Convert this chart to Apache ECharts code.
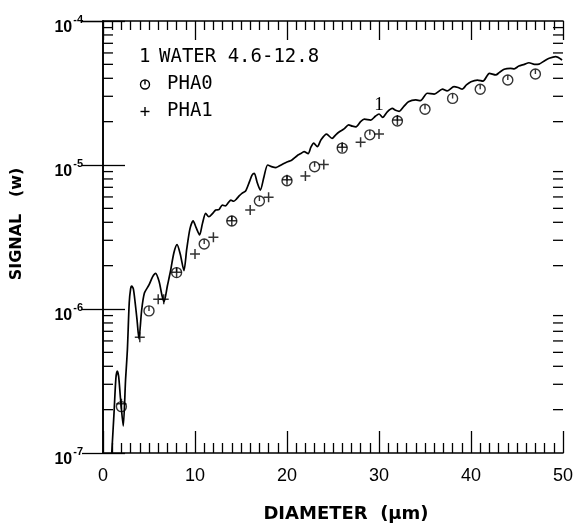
<!DOCTYPE html>
<html>
<head>
<meta charset="utf-8">
<script src="https://cdn.jsdelivr.net/npm/echarts@6/dist/echarts.min.js"></script>
<style>
  html, body { margin: 0; padding: 0; background: #fff; }
  #chart { width: 577px; height: 525px; }
</style>
</head>
<body>
<div id="chart"></div>
<script>
// Computed signal for water droplets, 4.6-12.8 um band (curve "1")
const diameter = [
  0.95, 1.2, 1.4, 1.55, 1.7, 1.9, 2.2, 2.45, 2.65, 2.85, 3.0, 3.12, 3.3, 3.5, 3.7, 3.91,
  4.2, 4.5, 5.0, 5.4, 5.72, 6.1, 6.4, 6.63, 7.0, 7.35, 7.7, 8.05, 8.4, 8.8, 9.1, 9.45,
  9.8, 10.1, 10.5, 10.8, 11.16, 11.5, 11.9, 12.25, 12.6, 12.97, 13.3, 13.6, 13.9, 14.2,
  14.5, 14.8, 15.1, 15.5, 15.9, 16.2, 16.45, 16.75, 17.1, 17.5, 17.9, 18.4, 18.8, 19.1,
  19.6, 20.0, 20.5, 21.1, 21.5, 21.85, 22.3, 22.6, 22.9, 23.3, 23.7, 24.3, 24.9, 25.3,
  25.7, 26.2, 26.7, 27.1, 27.5, 28.0, 28.4, 29.1, 29.6, 30.0, 30.4, 30.9, 31.45, 31.8,
  32.2, 32.7, 33.2, 34.0, 34.5, 35.25, 36.0, 36.9, 37.4, 38.15, 38.6, 39.05, 39.5, 40.0,
  40.7, 41.3, 42.0, 42.7, 43.1, 43.6, 44.3, 44.7, 45.2, 45.8, 46.3, 46.9, 47.4, 48.0,
  48.5, 49.2, 49.9
];
const waterSignal = [
  1.0e-7, 1.9e-7, 3.3e-7, 3.7e-7, 3.4e-7, 2.4e-7, 1.54e-7, 3.2e-7, 5.2e-7, 1.1e-6, 1.38e-6, 1.44e-6, 1.38e-6, 1.1e-6, 8.4e-7, 6.2e-7,
  9.8e-7, 1.29e-6, 1.47e-6, 1.68e-6, 1.77e-6, 1.55e-6, 1.25e-6, 1.12e-6, 1.45e-6, 1.85e-6, 2.45e-6, 2.8e-6, 2.4e-6, 1.85e-6, 2.6e-6, 3.6e-6,
  4.1e-6, 3.7e-6, 3.27e-6, 3.9e-6, 4.62e-6, 4.37e-6, 4.6e-6, 4.87e-6, 4.9e-6, 5.27e-6, 5.2e-6, 5.45e-6, 5.7e-6, 5.6e-6,
  5.8e-6, 6.1e-6, 6.35e-6, 6.6e-6, 7.6e-6, 8.5e-6, 8.75e-6, 7.6e-6, 6.7e-6, 8.3e-6, 1.0e-5, 9.7e-6, 9.6e-6, 9.8e-6,
  1.02e-5, 1.05e-5, 1.08e-5, 1.16e-5, 1.2e-5, 1.24e-5, 1.2e-5, 1.33e-5, 1.42e-5, 1.34e-5, 1.5e-5, 1.64e-5, 1.53e-5, 1.62e-5,
  1.70e-5, 1.78e-5, 1.90e-5, 1.86e-5, 1.84e-5, 2.0e-5, 2.08e-5, 2.05e-5, 2.18e-5, 2.26e-5, 2.14e-5, 2.34e-5, 2.47e-5, 2.4e-5,
  2.36e-5, 2.55e-5, 2.75e-5, 2.83e-5, 2.8e-5, 3.15e-5, 3.11e-5, 3.36e-5, 3.27e-5, 3.50e-5, 3.45e-5, 3.36e-5, 3.6e-5, 3.79e-5,
  3.89e-5, 3.82e-5, 4.33e-5, 4.22e-5, 4.4e-5, 4.62e-5, 4.69e-5, 4.65e-5, 4.87e-5, 5.0e-5, 5.13e-5, 5.0e-5, 5.02e-5, 5.3e-5,
  5.51e-5, 5.65e-5, 5.36e-5
];

// Measured channels
const pha0Diameter = [2, 5, 8, 11, 14, 17, 20, 23, 26, 29, 32, 35, 38, 41, 44, 47];
const pha0Signal = [2.1e-7, 9.7e-7, 1.79e-6, 2.83e-6, 4.08e-6, 5.62e-6, 7.78e-6, 9.73e-6, 1.31e-5, 1.62e-5, 2.02e-5, 2.44e-5, 2.9e-5, 3.36e-5, 3.89e-5, 4.28e-5];
const pha1Diameter = [2, 4, 6, 6.6, 8, 10, 12, 14, 16, 18, 20, 22, 24, 26, 28, 30, 32];
const pha1Signal = [2.2e-7, 6.36e-7, 1.17e-6, 1.17e-6, 1.8e-6, 2.41e-6, 3.15e-6, 4.1e-6, 4.87e-6, 5.97e-6, 7.9e-6, 8.4e-6, 1.01e-5, 1.33e-5, 1.44e-5, 1.64e-5, 2.05e-5];

// Axis ranges and tick marks
const xMin = 0, xMax = 50, xStep = 10;
const yMin = 1e-7, yMax = 1e-4;
const yMinorTicks = [
  2e-7, 3e-7, 4e-7, 5e-7, 6e-7, 7e-7, 8e-7, 9e-7,
  2e-6, 3e-6, 4e-6, 5e-6, 6e-6, 7e-6, 8e-6, 9e-6,
  2e-5, 3e-5, 4e-5, 5e-5, 6e-5, 7e-5, 8e-5, 9e-5
];

const curveName = 'WATER 4.6-12.8';
const curveTag = '1';

const pha0Symbol = 'path://M0,5A5,5,0,1,1,10,5A5,5,0,1,1,0,5ZM5,0.6L5,5';
const pha1Symbol = 'path://M5,0L5,10M0,5L10,5';

const INK = '#000';
const frameLine = { lineStyle: { color: INK, width: 1.6 } };
const tickLine = { color: INK, width: 1.3 };
const keyStroke = { fill: 'none', stroke: INK, lineWidth: 1.4 };
const keyFont = '19px "DejaVu Sans Mono"';
const MINOR_TICK_LEN = 10;

const chart = echarts.init(document.getElementById('chart'), null, { renderer: 'canvas' });

// key in the upper-left corner
const keyGraphics = [
  { type: 'text', left: 139, top: 48, style: { text: curveTag, font: keyFont, fill: INK } },
  { type: 'text', left: 159, top: 48, style: { text: curveName, font: keyFont, fill: INK } },
  { type: 'circle', shape: { cx: 145, cy: 84.5, r: 4.5 }, style: keyStroke },
  { type: 'line', shape: { x1: 145, y1: 80.5, x2: 145, y2: 84.5 }, style: keyStroke },
  { type: 'text', left: 167, top: 75, style: { text: 'PHA0', font: keyFont, fill: INK } },
  { type: 'line', shape: { x1: 145, y1: 107, x2: 145, y2: 116 }, style: keyStroke },
  { type: 'line', shape: { x1: 140.5, y1: 111.5, x2: 149.5, y2: 111.5 }, style: keyStroke },
  { type: 'text', left: 167, top: 102, style: { text: 'PHA1', font: keyFont, fill: INK } }
];

chart.setOption({
  animation: false,
  backgroundColor: '#fff',
  grid: { left: 103, top: 21, width: 460, height: 432, outerBoundsMode: 'none' },
  xAxis: [
    {
      type: 'value', min: xMin, max: xMax, interval: xStep, position: 'bottom',
      name: 'DIAMETER  (\u03bcm)', nameLocation: 'middle', nameGap: 52,
      nameTextStyle: { fontFamily: 'DejaVu Sans', fontWeight: 'bold', fontSize: 18, color: INK, padding: [0, 0, 0, 26] },
      axisLine: frameLine,
      axisTick: { inside: true, length: 22, lineStyle: tickLine },
      minorTick: { show: true, splitNumber: 10, length: 10, lineStyle: tickLine },
      splitLine: { show: false },
      axisLabel: { margin: 14, fontFamily: 'Liberation Sans', fontSize: 18, color: INK }
    },
    {
      type: 'value', min: xMin, max: xMax, interval: xStep, position: 'top',
      axisLine: frameLine,
      axisTick: { inside: true, length: 19, lineStyle: tickLine },
      minorTick: { show: true, splitNumber: 10, length: 9, lineStyle: tickLine },
      splitLine: { show: false },
      axisLabel: { show: false }
    }
  ],
  yAxis: [
    {
      type: 'log', logBase: 10, min: yMin, max: yMax, position: 'left',
      name: 'SIGNAL   (w)', nameLocation: 'middle', nameGap: 78, nameRotate: 90,
      nameTextStyle: { fontFamily: 'DejaVu Sans', fontWeight: 'bold', fontSize: 16, color: INK, padding: [0, 0, 0, 26] },
      axisLine: frameLine,
      axisTick: { inside: true, length: 22, lineStyle: tickLine },
      splitLine: { show: false },
      axisLabel: {
        margin: 20,
        formatter: v => '{a|10}{b|' + Math.round(Math.log10(v)) + '}',
        rich: {
          a: { fontFamily: 'Liberation Sans', fontWeight: 'bold', fontSize: 16, lineHeight: 30, color: INK, verticalAlign: 'bottom' },
          b: { fontFamily: 'Liberation Sans', fontWeight: 'bold', fontSize: 11, lineHeight: 11, color: INK, padding: [8, 0, 0, 1], verticalAlign: 'top' }
        }
      }
    },
    {
      type: 'log', logBase: 10, min: yMin, max: yMax, position: 'right',
      axisLine: frameLine,
      axisTick: { inside: true, length: 21, lineStyle: tickLine },
      splitLine: { show: false },
      axisLabel: { show: false }
    }
  ],
  series: [
    {
      name: curveName,
      type: 'line',
      showSymbol: false,
      smooth: 0.25,
      lineStyle: { color: INK, width: 1.7 },
      data: diameter.map((d, i) => [d, waterSignal[i]]),
      markPoint: {
        symbol: 'circle', symbolSize: 1,
        itemStyle: { color: 'rgba(0,0,0,0)' },
        label: { show: true, position: 'inside', formatter: curveTag, fontFamily: 'Liberation Serif', fontSize: 19, color: INK },
        data: [{ coord: [30.0, 2.59e-5] }]
      }
    },
    {
      name: 'PHA0',
      type: 'scatter',
      symbol: pha0Symbol,
      symbolSize: 10,
      itemStyle: { color: 'rgba(0,0,0,0)', borderColor: INK, borderWidth: 1.4 },
      data: pha0Diameter.map((d, i) => [d, pha0Signal[i]])
    },
    {
      name: 'PHA1',
      type: 'scatter',
      symbol: pha1Symbol,
      symbolSize: 10,
      itemStyle: { color: 'rgba(0,0,0,0)', borderColor: INK, borderWidth: 1.5 },
      data: pha1Diameter.map((d, i) => [d, pha1Signal[i]])
    }
  ],
  graphic: keyGraphics
});

// short inward ticks at 2..9 of every decade on both vertical frame edges,
// placed through the chart's own axis scales
const xLeft = chart.convertToPixel({ xAxisIndex: 0 }, xMin);
const xRight = chart.convertToPixel({ xAxisIndex: 0 }, xMax);
const tickGraphics = [];
yMinorTicks.forEach(v => {
  const y = chart.convertToPixel({ yAxisIndex: 0 }, v);
  tickGraphics.push({ type: 'line', z: 50, shape: { x1: xLeft, y1: y, x2: xLeft + MINOR_TICK_LEN, y2: y }, style: { stroke: INK, lineWidth: 1.3 } });
  tickGraphics.push({ type: 'line', z: 50, shape: { x1: xRight, y1: y, x2: xRight - MINOR_TICK_LEN, y2: y }, style: { stroke: INK, lineWidth: 1.3 } });
});
chart.setOption({ graphic: keyGraphics.concat(tickGraphics) });
</script>
</body>
</html>
